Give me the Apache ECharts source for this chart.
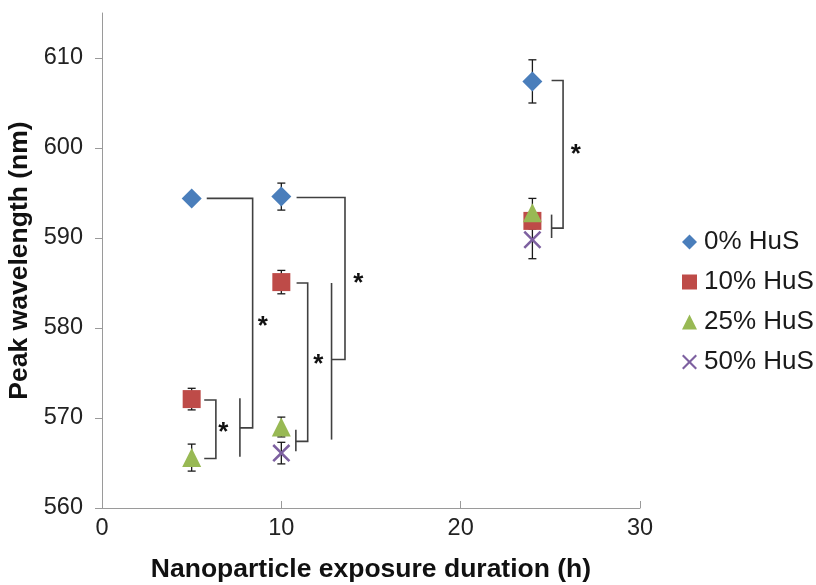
<!DOCTYPE html>
<html>
<head>
<meta charset="utf-8">
<script src="https://cdn.jsdelivr.net/npm/echarts@6/dist/echarts.min.js"></script>
<style>
html,body{margin:0;padding:0;background:#fff;}
#main{width:816px;height:585px;}
</style>
</head>
<body>
<div id="main"></div>
<script>
/*数据*/
var seriesNames = ['0% HuS', '10% HuS', '25% HuS', '50% HuS'];
var hours0 = [5, 10, 24];
var hus0 = [594.4, 594.6, 607.4];
var err0 = [0.4, 1.5, 2.4];
var hours10 = [5, 10, 24];
var hus10 = [572.1, 585.1, 591.9];
var err10 = [1.2, 1.3, 0.9];
var hours25 = [5, 10, 24];
var hus25 = [565.6, 569.0, 592.8];
var err25 = [1.5, 1.1, 1.6];
var hours50 = [10, 24];
var hus50 = [566.1, 589.8];
var err50 = [1.2, 2.1];
var xTicks = [0, 10, 20, 30];
var yTicks = [560, 570, 580, 590, 600, 610];

/*显著性括号 (数据坐标)*/
var brackets = [
    [[5.84, 594.4], [8.40, 594.4], [8.40, 568.9], [7.69, 568.9]],
    [[7.69, 572.2], [7.69, 565.7]],
    [[5.70, 572.0], [6.35, 572.0], [6.35, 565.5], [5.70, 565.5]],
    [[10.85, 594.5], [13.55, 594.5], [13.55, 576.5], [12.80, 576.5]],
    [[12.80, 585.0], [12.80, 567.6]],
    [[10.85, 585.0], [11.47, 585.0], [11.47, 567.4], [10.81, 567.4]],
    [[10.81, 568.7], [10.81, 566.3]],
    [[25.07, 607.5], [25.71, 607.5], [25.71, 591.1], [25.07, 591.1]],
    [[25.07, 592.6], [25.07, 590.0]]
];
var stars = [[6.76, 568.9], [8.97, 580.7], [12.06, 576.5], [14.29, 585.5], [26.42, 599.8]];

var colors = ['#4A7EBB', '#BE4B48', '#98B954', '#7D60A0'];
var crossPath = 'path://M0,2 L2,0 L10,8 L18,0 L20,2 L12,10 L20,18 L18,20 L10,12 L2,20 L0,18 L8,10 Z';

function zipPts(xs, ys) {
    var out = [];
    for (var i = 0; i < xs.length; i++) {
        out.push([xs[i], ys[i]]);
    }
    return out;
}
function errData(xs, ys, es) {
    var out = [];
    for (var i = 0; i < xs.length; i++) {
        out.push([xs[i], ys[i] - es[i], ys[i] + es[i]]);
    }
    return out;
}
var allErr = [].concat(
    errData(hours0, hus0, err0),
    errData(hours10, hus10, err10),
    errData(hours25, hus25, err25),
    errData(hours50, hus50, err50)
);

var chart = echarts.init(document.getElementById('main'));
var font = 'Liberation Sans, Arial, sans-serif';
var option = {
    backgroundColor: '#ffffff',
    animation: false,
    grid: {left: 102, right: 176, top: 13, bottom: 77, outerBoundsMode: 'none', containLabel: false},
    legend: {
        orient: 'vertical',
        left: 677,
        top: 224,
        itemWidth: 15,
        itemHeight: 15,
        itemGap: 14,
        data: seriesNames,
        textStyle: {fontFamily: font, fontSize: 26, color: '#1a1a1a', padding: [0, 0, 0, 2]}
    },
    xAxis: {
        type: 'value',
        min: 0,
        max: 30,
        interval: 10,
        name: 'Nanoparticle exposure duration (h)',
        nameLocation: 'middle',
        nameGap: 48,
        nameTextStyle: {fontFamily: font, fontSize: 26.5, fontWeight: 'bold', color: '#111'},
        axisLine: {lineStyle: {color: '#9a9a9a', width: 1}},
        axisTick: {show: true, inside: true, length: 7, lineStyle: {color: '#9a9a9a'}, customValues: xTicks},
        axisLabel: {fontFamily: font, fontSize: 23.5, color: '#222', margin: 9, customValues: xTicks},
        splitLine: {show: false}
    },
    yAxis: {
        type: 'value',
        min: 560,
        max: 615,
        interval: 10,
        name: 'Peak wavelength (nm)',
        nameLocation: 'middle',
        nameGap: 64,
        nameRotate: 90,
        nameTextStyle: {fontFamily: font, fontSize: 26.5, fontWeight: 'bold', color: '#111'},
        axisLine: {show: true, lineStyle: {color: '#9a9a9a', width: 1}},
        axisTick: {show: true, inside: false, length: 7, lineStyle: {color: '#9a9a9a'}, customValues: yTicks},
        axisLabel: {fontFamily: font, fontSize: 23.5, color: '#222', margin: 19, customValues: yTicks},
        splitLine: {show: false}
    },
    series: [
        {
            type: 'custom',
            name: 'errors',
            z: 1,
            silent: true,
            renderItem: function (params, api) {
                var x = api.value(0);
                var lo = api.coord([x, api.value(1)]);
                var hi = api.coord([x, api.value(2)]);
                var cap = 4;
                var st = {stroke: '#1a1a1a', lineWidth: 1.3};
                return {
                    type: 'group',
                    children: [
                        {type: 'line', shape: {x1: lo[0], y1: lo[1], x2: hi[0], y2: hi[1]}, style: st},
                        {type: 'line', shape: {x1: lo[0] - cap, y1: lo[1], x2: lo[0] + cap, y2: lo[1]}, style: st},
                        {type: 'line', shape: {x1: hi[0] - cap, y1: hi[1], x2: hi[0] + cap, y2: hi[1]}, style: st}
                    ]
                };
            },
            encode: {x: 0, y: [1, 2]},
            data: allErr
        },
        {
            type: 'custom',
            name: 'brackets',
            z: 1,
            silent: true,
            renderItem: function (params, api) {
                var pts = brackets[params.dataIndex].map(function (p) { return api.coord(p); });
                return {type: 'polyline', shape: {points: pts}, style: {stroke: '#404040', lineWidth: 1.6, fill: null}};
            },
            data: brackets.map(function (b) { return [b[0][0], b[0][1]]; })
        },
        {
            type: 'custom',
            name: 'stars',
            z: 3,
            silent: true,
            renderItem: function (params, api) {
                var p = api.coord([api.value(0), api.value(1)]);
                return {
                    type: 'text',
                    x: p[0],
                    y: p[1] + 5,
                    style: {text: '*', fontSize: 26, fontWeight: 'bold', fontFamily: font, fill: '#111', align: 'center', verticalAlign: 'middle'}
                };
            },
            data: stars
        },
        {
            name: seriesNames[0], type: 'scatter', z: 5, symbol: 'diamond', symbolSize: 20,
            itemStyle: {color: colors[0], opacity: 1}, data: zipPts(hours0, hus0)
        },
        {
            name: seriesNames[1], type: 'scatter', z: 5, symbol: 'rect', symbolSize: 18,
            itemStyle: {color: colors[1], opacity: 1}, data: zipPts(hours10, hus10)
        },
        {
            name: seriesNames[2], type: 'scatter', z: 5, symbol: 'triangle', symbolSize: 19,
            itemStyle: {color: colors[2], opacity: 1}, data: zipPts(hours25, hus25)
        },
        {
            name: seriesNames[3], type: 'scatter', z: 5, symbol: crossPath, symbolSize: 18,
            itemStyle: {color: colors[3], opacity: 1}, data: zipPts(hours50, hus50)
        }
    ]
};
chart.setOption(option);
</script>
</body>
</html>
